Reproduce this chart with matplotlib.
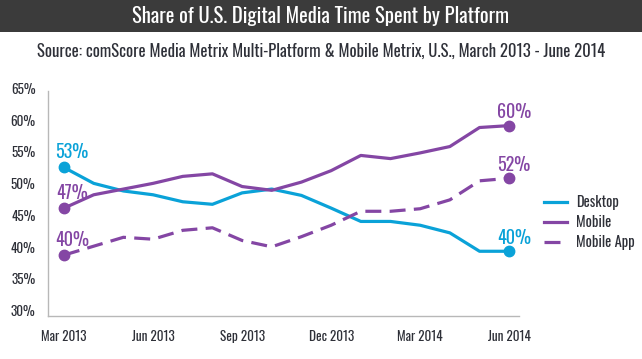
import matplotlib
matplotlib.use("Agg")
import matplotlib.pyplot as plt
import matplotlib.patches as patches
import numpy as np

# Condensed gothic look, fall back to DejaVu
plt.rcParams['font.family'] = ['Oswald', 'Liberation Sans Narrow', 'DejaVu Sans']

# Data, monthly Mar 2013 - Jun 2014
months = ['Mar 2013', 'Apr 2013', 'May 2013', 'Jun 2013', 'Jul 2013', 'Aug 2013',
          'Sep 2013', 'Oct 2013', 'Nov 2013', 'Dec 2013', 'Jan 2014', 'Feb 2014',
          'Mar 2014', 'Apr 2014', 'May 2014', 'Jun 2014']
desktop = [53.4, 50.9, 49.7, 49.1, 48.0, 47.6, 49.4, 50.0, 49.0, 47.0,
           44.9, 44.9, 44.3, 43.1, 40.2, 40.2]
mobile = [47.0, 49.1, 50.0, 50.9, 52.0, 52.4, 50.4, 49.8, 51.1, 52.9,
          55.3, 54.8, 55.7, 56.7, 59.7, 60.0]
mobile_app = [39.6, 41.0, 42.4, 42.1, 43.5, 43.9, 41.9, 40.9, 42.5, 44.3,
              46.5, 46.5, 46.9, 48.3, 51.3, 51.7]
start_labels = ['53%', '47%', '40%']
end_labels = ['40%', '60%', '52%']
tick_months = ['Mar 2013', 'Jun 2013', 'Sep 2013', 'Dec 2013', 'Mar 2014', 'Jun 2014']
yticks = [30, 35, 40, 45, 50, 55, 60, 65]

blue = '#0aa2d8'
purple = '#8446a4'
text_col = '#2e3038'

W, H = 642, 359
fig = plt.figure(figsize=(W / 100, H / 100), dpi=100)

# Title bar
bar = patches.Rectangle((0, 1 - 32 / H), 1, 32 / H, transform=fig.transFigure,
                        facecolor='#3b3b3b', edgecolor='none')
fig.patches.append(bar)
fig.text(0.5, 1 - 16 / H, 'Share of U.S. Digital Media Time Spent by Platform',
         color='white', fontsize=14.8, fontweight='bold', ha='center', va='center')
fig.text(0.5, 1 - 51.5 / H,
         'Source: comScore Media Metrix Multi-Platform & Mobile Metrix, U.S., March 2013 - June 2014',
         color=text_col, fontsize=12, ha='center', va='center')

ax = fig.add_axes([48 / W, 1 - 316 / H, 471 / W, 225.3 / H])
x = np.arange(len(months))

ax.plot(x, desktop, color=blue, lw=2.3, label='Desktop', solid_joinstyle='round')
ax.plot(x, mobile, color=purple, lw=2.3, label='Mobile', solid_joinstyle='round')
ax.plot(x, mobile_app, color=purple, lw=2.3, dashes=(5, 2.6), label='Mobile App')

# End markers
series = [desktop, mobile, mobile_app]
colors = [blue, purple, purple]
for s, c in zip(series, colors):
    ax.plot([x[0], x[-1]], [s[0], s[-1]], 'o', color=c, ms=7.5, zorder=4)

# Start / end value labels
for s, c, lab in zip(series, colors, start_labels):
    ax.annotate(lab, (x[0], s[0]), xytext=(5.6, 6.5), textcoords='offset points',
                ha='center', va='baseline', color=c, fontsize=13, fontweight='bold')
for s, c, lab in zip(series, colors, end_labels):
    ax.annotate(lab, (x[-1], s[-1]), xytext=(3.5, 5.4), textcoords='offset points',
                ha='center', va='baseline', color=c, fontsize=13, fontweight='bold')

ax.set_xlim(-0.54, 15.33)
ax.set_ylim(30, 65.5)
ax.set_yticks(yticks)
ax.set_yticklabels([f'{v}%' for v in yticks])
for t in ax.get_yticklabels():
    t.set_va('baseline')
ax.set_xticks([months.index(m) for m in tick_months])
ax.set_xticklabels(tick_months)
ax.tick_params(axis='both', length=0, labelsize=9.5, colors=text_col)
ax.tick_params(axis='x', pad=10)
ax.tick_params(axis='y', pad=9)

for side in ['top', 'right']:
    ax.spines[side].set_visible(False)
for side in ['left', 'bottom']:
    ax.spines[side].set_color('#b8b8b8')
    ax.spines[side].set_linewidth(1.0)

leg = ax.legend(loc='center left', bbox_to_anchor=(1.053, 0.415), frameon=False,
                borderaxespad=0, borderpad=0, fontsize=10.5, handlelength=1.6,
                handletextpad=0.6, labelspacing=0.35)
for t in leg.get_texts():
    t.set_color(text_col)

fig.savefig('out.png', dpi=100)
